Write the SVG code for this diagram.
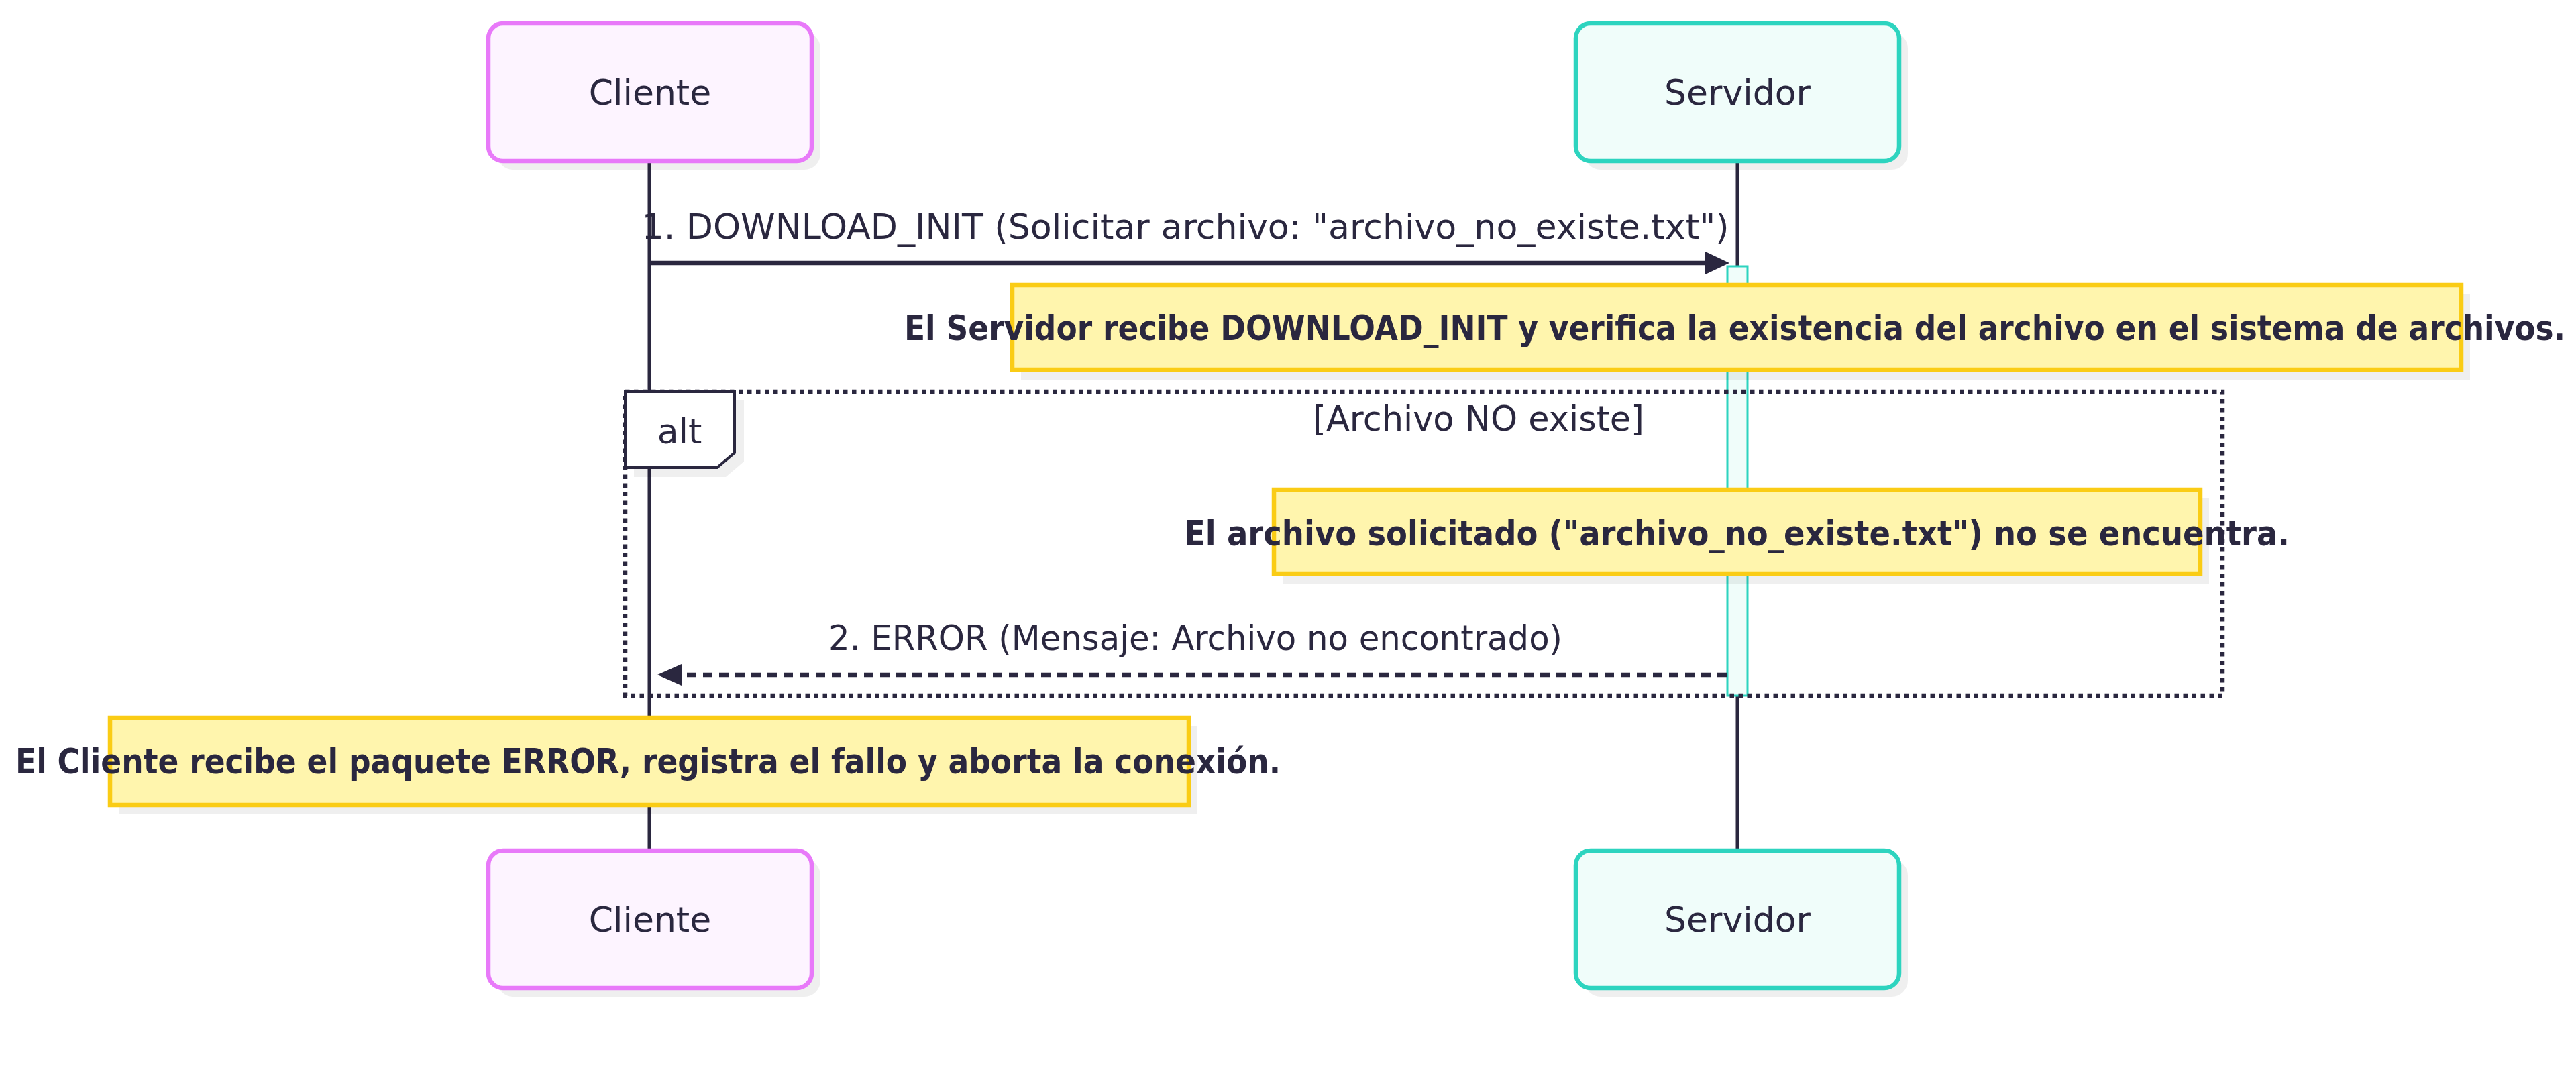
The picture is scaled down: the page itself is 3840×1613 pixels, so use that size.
<svg xmlns="http://www.w3.org/2000/svg" width="3840" height="1613" viewBox="0 0 3840 1613">
  <defs>
    <style>
      .txt { font-family: "DejaVu Sans", "Liberation Sans", sans-serif; font-size: 52px; fill: #2a273f; }
      .bold { font-weight: bold; }
      .shadow { fill: #000000; fill-opacity: 0.063; }
      .cli { fill: #fdf4ff; stroke: #e879f9; stroke-width: 6.5; }
      .srv { fill: #f0fdfa; stroke: #2dd4bf; stroke-width: 6.5; }
      .note { fill: #fff5ad; stroke: #facc15; stroke-width: 6.5; }
      .lifeline { stroke: #2a273f; stroke-width: 5; fill: none; }
      .msg { stroke: #2a273f; stroke-width: 6.5; fill: none; }
      .dotted { stroke-dasharray: 14 10; }
      .frame { stroke: #2a273f; stroke-width: 6.5; fill: none; stroke-dasharray: 6.5 6.5; }
      .arrowhead { fill: #2a273f; }
    </style>
  </defs>
  <rect width="3840" height="1613" fill="#ffffff"/>

  <g id="connectors">
    <line class="lifeline" x1="968" y1="243" x2="968" y2="1265"/>
    <line class="lifeline" x1="2590" y1="243" x2="2590" y2="1265"/>
  </g>

  <g id="activation-servidor">
    <rect x="2575" y="397" width="30" height="640" fill="#f0fdfa" stroke="#2dd4bf" stroke-width="3"/>
  </g>

  <g id="actor-cliente-top">
    <rect class="shadow" x="741" y="48" width="482" height="205" rx="24"/>
    <rect class="cli" x="728" y="35" width="482" height="205" rx="22"/>
    <text class="txt" x="969" y="156" text-anchor="middle">Cliente</text>
  </g>
  <g id="actor-servidor-top">
    <rect class="shadow" x="2362" y="48" width="482" height="205" rx="24"/>
    <rect class="srv" x="2349" y="35" width="482" height="205" rx="22"/>
    <text class="txt" x="2590" y="156" text-anchor="middle">Servidor</text>
  </g>

  <g id="messages">
    <line class="msg" x1="968" y1="392" x2="2548" y2="392"/>
    <polygon class="arrowhead" points="2542,375 2578,392 2542,409"/>
    <text class="txt" x="1767" y="356" text-anchor="middle" textLength="1621" lengthAdjust="spacingAndGlyphs">1. DOWNLOAD_INIT (Solicitar archivo: "archivo_no_existe.txt")</text>
    <line class="msg dotted" x1="2574" y1="1006" x2="1016" y2="1006"/>
    <polygon class="arrowhead" points="1016,990 980,1006 1016,1022"/>
    <text class="txt" x="1782" y="969" text-anchor="middle" textLength="1094" lengthAdjust="spacingAndGlyphs">2. ERROR (Mensaje: Archivo no encontrado)</text>
  </g>

  <g id="note-1">
    <rect class="shadow" x="1522" y="438" width="2160" height="129"/>
    <rect class="note" x="1509" y="425" width="2160" height="126"/>
    <text class="txt bold" x="2586" y="507" text-anchor="middle" textLength="2476" lengthAdjust="spacingAndGlyphs">El Servidor recibe DOWNLOAD_INIT y verifica la existencia del archivo en el sistema de archivos.</text>
  </g>

  <g id="alt-frame">
    <rect class="frame" x="932" y="584" width="2381" height="453"/>
    <polygon class="shadow" points="945,597 1109,597 1109,688 1082,711 945,711"/>
    <polygon points="932,584 1095,584 1095,675 1069,697 932,697" fill="#ffffff" stroke="#2a273f" stroke-width="4"/>
    <text class="txt" x="1013" y="661" text-anchor="middle">alt</text>
    <text class="txt" x="2204" y="642" text-anchor="middle" textLength="494" lengthAdjust="spacingAndGlyphs">[Archivo NO existe]</text>
  </g>

  <g id="note-2">
    <rect class="shadow" x="1912" y="743" width="1381" height="128"/>
    <rect class="note" x="1899" y="730" width="1381" height="125"/>
    <text class="txt bold" x="2589" y="813" text-anchor="middle" textLength="1648" lengthAdjust="spacingAndGlyphs">El archivo solicitado ("archivo_no_existe.txt") no se encuentra.</text>
  </g>

  <g id="note-3">
    <rect class="shadow" x="177" y="1083" width="1608" height="130"/>
    <rect class="note" x="164" y="1070" width="1608" height="130"/>
    <text class="txt bold" x="966" y="1153" text-anchor="middle" textLength="1886" lengthAdjust="spacingAndGlyphs">El Cliente recibe el paquete ERROR, registra el fallo y aborta la conexión.</text>
  </g>

  <g id="actor-cliente-bottom">
    <rect class="shadow" x="741" y="1281" width="482" height="205" rx="24"/>
    <rect class="cli" x="728" y="1268" width="482" height="205" rx="22"/>
    <text class="txt" x="969" y="1389" text-anchor="middle">Cliente</text>
  </g>
  <g id="actor-servidor-bottom">
    <rect class="shadow" x="2362" y="1281" width="482" height="205" rx="24"/>
    <rect class="srv" x="2349" y="1268" width="482" height="205" rx="22"/>
    <text class="txt" x="2590" y="1389" text-anchor="middle">Servidor</text>
  </g>
</svg>
